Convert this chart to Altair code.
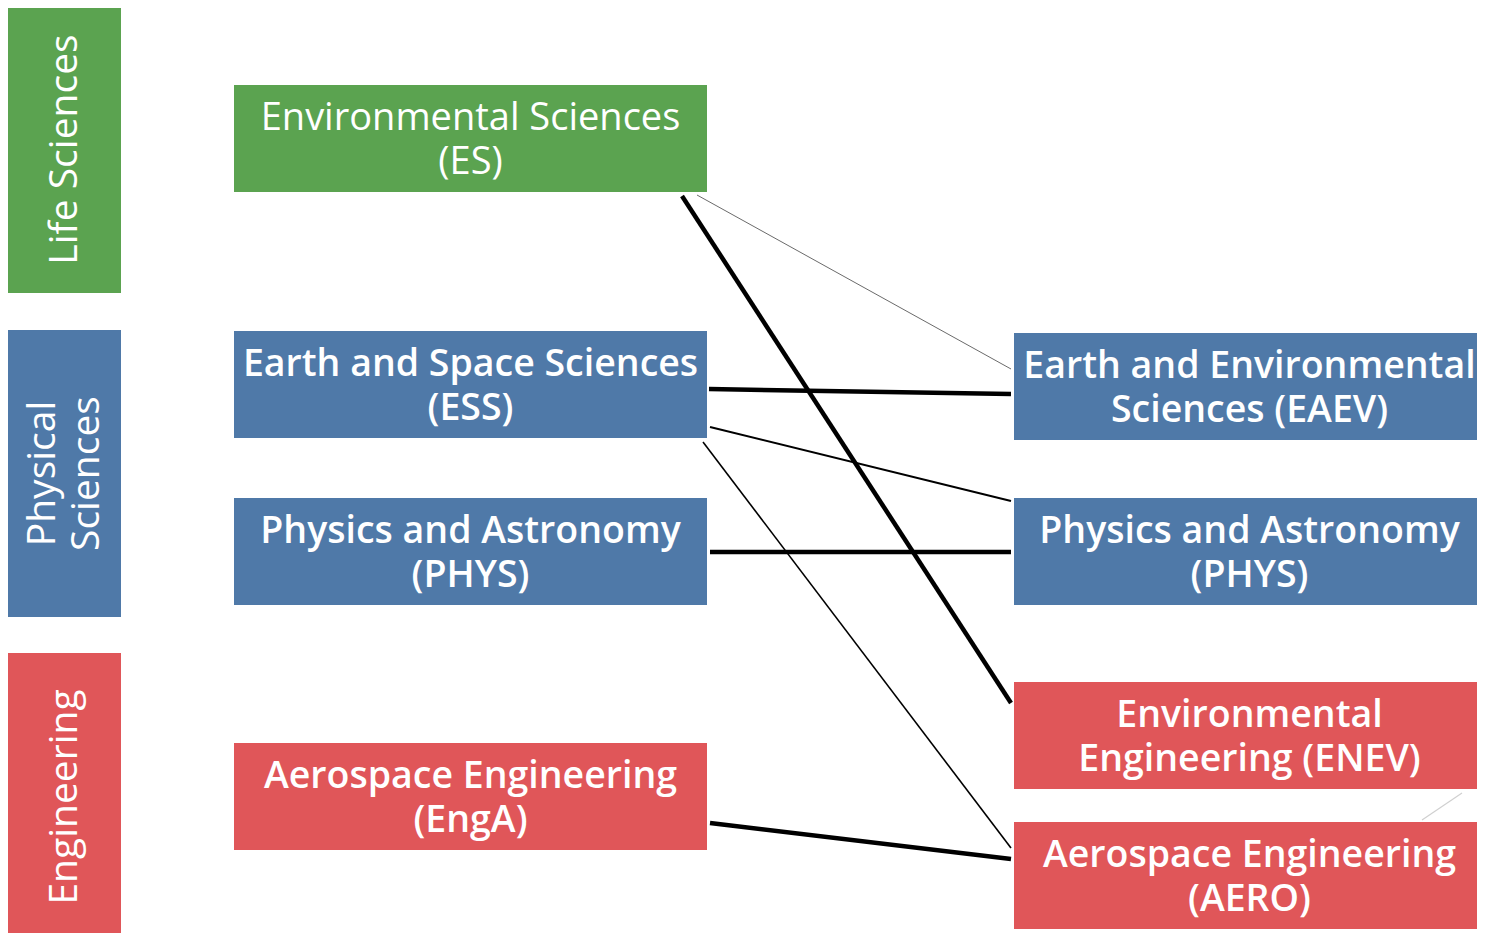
import altair as alt
import pandas as pd

# ---- boxes (pixel-space diagram coordinates) ----
box_label = [
    "Life Sciences", "Physical\nSciences", "Engineering",
    "Environmental Sciences\n(ES)", "Earth and Space Sciences\n(ESS)",
    "Physics and Astronomy\n(PHYS)", "Aerospace Engineering\n(EngA)",
    "Earth and Environmental\nSciences (EAEV)", "Physics and Astronomy\n(PHYS)",
    "Environmental\nEngineering (ENEV)", "Aerospace Engineering\n(AERO)",
]
box_group = ["side", "side", "side", "node", "node", "node", "node",
             "node", "node", "node", "node"]
box_weight = ["normal", "normal", "normal", "normal", "600", "600", "600",
              "600", "600", "600", "600"]
box_x1 = [8, 8, 8, 234, 234, 234, 234, 1014, 1014, 1014, 1014]
box_x2 = [121, 121, 121, 707, 707, 707, 707, 1485, 1485, 1485, 1485]
box_y1 = [6, 330, 653, 85, 331, 498, 743, 333, 498, 682, 822]
box_y2 = [293, 617, 941, 192, 438, 605, 850, 440, 605, 789, 929]
GREEN, BLUE, RED = "#5BA350", "#4F79A8", "#E05659"
box_color = [GREEN, BLUE, RED, GREEN, BLUE, BLUE, RED, BLUE, BLUE, RED, RED]

# ---- links ----
link_x1 = [682, 697, 709, 710, 703, 710, 710, 1422]
link_y1 = [196, 195, 389, 427, 442, 552, 823, 820]
link_x2 = [1011, 1011, 1011, 1011, 1011, 1011, 1011, 1462]
link_y2 = [703, 369, 394, 501, 848, 552, 859, 793]
link_w = [4.5, 0.8, 4.5, 2.0, 1.6, 4.5, 4.5, 1.2]
link_c = ["#000000", "#444444", "#000000", "#000000", "#000000", "#000000",
          "#000000", "#d0d0d0"]

LH = 44  # line height for labels

boxes = pd.DataFrame({
    "label": box_label, "group": box_group, "weight": box_weight,
    "x1": box_x1, "x2": box_x2, "y1": box_y1, "y2": box_y2, "color": box_color,
})
boxes["cx"] = (boxes["x1"] + boxes["x2"]) / 2
boxes["cy"] = (boxes["y1"] + boxes["y2"]) / 2
nlines = boxes["label"].str.count("\n") + 1
shift = (nlines - 1) * LH / 2
rot = boxes["group"] == "side"
boxes["tx"] = boxes["cx"] - shift.where(rot, 0)
boxes["ty"] = boxes["cy"] - shift.where(~rot, 0)

links = pd.DataFrame({"x1": link_x1, "y1": link_y1, "x2": link_x2,
                      "y2": link_y2, "w": link_w, "c": link_c})

# drawing area: page pixels 8..1477 x 8..933 (stays inside the window)
W, H = 1469, 925
xs = alt.Scale(domain=[8, 8 + W], nice=False, zero=False)
ys = alt.Scale(domain=[8, 8 + H], nice=False, zero=False, reverse=True)
noax = None

rects = alt.Chart(boxes).mark_rect().encode(
    x=alt.X("x1:Q", scale=xs, axis=noax),
    x2="x2:Q",
    y=alt.Y("y1:Q", scale=ys, axis=noax),
    y2="y2:Q",
    color=alt.Color("color:N", scale=None, legend=None),
)

rules = alt.Chart(links).mark_rule().encode(
    x=alt.X("x1:Q", scale=xs, axis=noax),
    x2="x2:Q",
    y=alt.Y("y1:Q", scale=ys, axis=noax),
    y2="y2:Q",
    strokeWidth=alt.StrokeWidth("w:Q", scale=None, legend=None),
    color=alt.Color("c:N", scale=None, legend=None),
)

side_text = alt.Chart(boxes).transform_filter(
    alt.datum.group == "side"
).mark_text(
    angle=270, color="white", font="Open Sans", fontSize=39,
    lineBreak="\n", lineHeight=LH, align="center", baseline="middle",
).encode(
    x=alt.X("tx:Q", scale=xs, axis=noax),
    y=alt.Y("ty:Q", scale=ys, axis=noax),
    text="label:N",
)

node_text_reg = alt.Chart(boxes).transform_filter(
    (alt.datum.group == "node") & (alt.datum.weight == "normal")
).mark_text(
    color="white", font="Open Sans", fontSize=38, fontWeight="normal",
    lineBreak="\n", lineHeight=LH, align="center", baseline="middle", dy=2,
).encode(
    x=alt.X("tx:Q", scale=xs, axis=noax),
    y=alt.Y("ty:Q", scale=ys, axis=noax),
    text="label:N",
)

node_text_bold = alt.Chart(boxes).transform_filter(
    (alt.datum.group == "node") & (alt.datum.weight == "600")
).mark_text(
    color="white", font="Open Sans", fontSize=37.5, fontWeight=600,
    lineBreak="\n", lineHeight=LH, align="center", baseline="middle", dy=2,
).encode(
    x=alt.X("tx:Q", scale=xs, axis=noax),
    y=alt.Y("ty:Q", scale=ys, axis=noax),
    text="label:N",
)

chart = alt.layer(rects, rules, side_text, node_text_reg, node_text_bold).properties(
    width=W, height=H, padding=0,
    autosize=alt.AutoSizeParams(type="none"),
).configure_view(stroke=None, strokeWidth=0)

chart.save("out.html", embed_options={"renderer": "svg", "actions": False})
